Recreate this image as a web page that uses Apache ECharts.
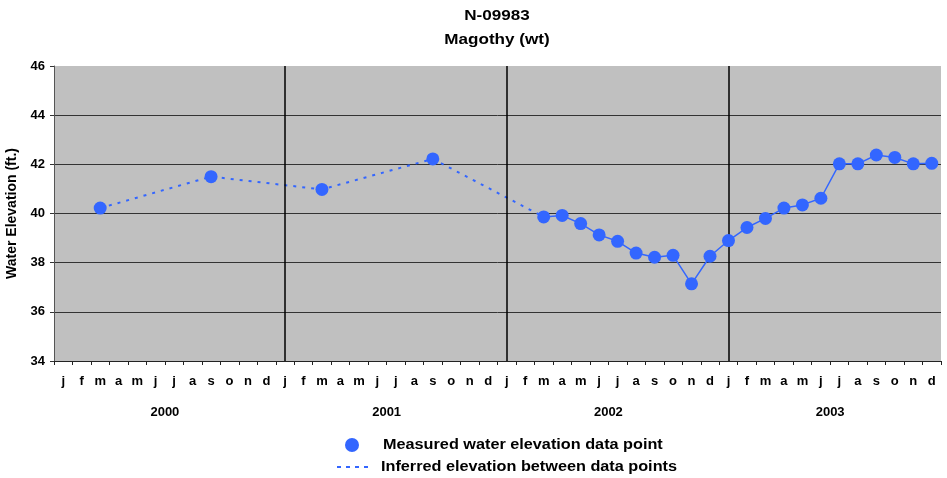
<!DOCTYPE html>
<html><head><meta charset="utf-8">
<script src="https://cdn.jsdelivr.net/npm/echarts@6/dist/echarts.min.js"></script>
<style>html,body{margin:0;padding:0;background:#fff}#c{width:947px;height:478px}</style>
</head><body><div id="c"></div>
<script>
const monthLetters = ['j','f','m','a','m','j','j','a','s','o','n','d'];
const years = ['2000','2001','2002','2003'];
// month index counted from Jan 2000 (0) and measured elevation (ft)
const measuredMonth = [2, 8, 14, 20, 26, 27, 28, 29, 30, 31, 32, 33, 34, 35, 36, 37, 38, 39, 40, 41, 42, 43, 44, 45, 46, 47];
const measuredValue = [40.22, 41.5, 40.98, 42.22, 39.86, 39.92, 39.59, 39.13, 38.87, 38.39, 38.22, 38.3, 37.14, 38.26, 38.9, 39.43, 39.8, 40.22, 40.35, 40.62, 42.02, 42.02, 42.38, 42.28, 42.02, 42.04];
const yTicks = {min: 34, max: 46, step: 2};
const titleLines = ['N-09983', 'Magothy (wt)'];
const legendTexts = ['Measured water elevation data point', 'Inferred elevation between data points'];

const FONT = "'Liberation Sans', Arial, Helvetica, sans-serif";
const BLUE = '#3366ff';
const nMonths = monthLetters.length * years.length;
const monthCats = [];
years.forEach(() => monthLetters.forEach(m => monthCats.push(m)));
const pts = measuredMonth.map((m, i) => [m + 0.5, measuredValue[i]]);
const dotted = [], solid = [];
for (let i = 1; i < pts.length; i++) {
  const target = (measuredMonth[i] - measuredMonth[i - 1] > 1) ? dotted : solid;
  if (!target.length || target[target.length - 1] !== pts[i - 1]) target.push(pts[i - 1]);
  target.push(pts[i]);
}
const yearLines = years.slice(1).map((y, k) => ({xAxis: (k + 1) * 12 + 0.5}));

const chart = echarts.init(document.getElementById('c'), null, {renderer: 'canvas'});
const txt = (t, x, y, size, sx) => ({type: 'text', x: x, y: y, scaleX: sx, style: {text: t, fontFamily: FONT, fontSize: size, fontWeight: 'bold', fill: '#000', verticalAlign: 'middle', align: 'left'}});
const ttl = (t, y) => ({type: 'text', x: 497, y: y, scaleX: 1.14, style: {text: t, fontFamily: FONT, fontSize: 15, fontWeight: 'bold', fill: '#000', verticalAlign: 'middle', align: 'center'}});
chart.setOption({
  animation: false,
  backgroundColor: '#fff',
  grid: {left: 54, right: 6, top: 66, bottom: 117, show: true, backgroundColor: '#c0c0c0', borderWidth: 0, outerBoundsMode: 'none', containLabel: false},
  xAxis: [
    {type: 'value', min: 0, max: nMonths, show: false, splitLine: {show: false}},
    {type: 'category', data: monthCats, boundaryGap: true, position: 'bottom',
      axisLine: {show: true, lineStyle: {color: '#222', width: 1}},
      axisTick: {show: true, interval: 0, length: 4, lineStyle: {color: '#222'}},
      axisLabel: {interval: 0, margin: 14, fontFamily: FONT, fontSize: 13, fontWeight: 'bold', color: '#000'},
      splitLine: {show: false}},
    {type: 'category', data: years, boundaryGap: true, position: 'bottom', offset: 45,
      axisLine: {show: false}, axisTick: {show: false},
      axisLabel: {interval: 0, margin: 0, fontFamily: FONT, fontSize: 13, fontWeight: 'bold', color: '#000'},
      splitLine: {show: false}}
  ],
  yAxis: {
    type: 'value', min: yTicks.min, max: yTicks.max, interval: yTicks.step,
    name: 'Water Elevation (ft.)', nameLocation: 'middle', nameGap: 35, nameRotate: 90,
    nameTextStyle: {fontFamily: FONT, fontSize: 14, fontWeight: 'bold', color: '#000'},
    axisLine: {show: true, lineStyle: {color: '#555', width: 1}},
    axisTick: {show: true, length: 4, lineStyle: {color: '#333'}},
    axisLabel: {margin: 9, fontFamily: FONT, fontSize: 13, fontWeight: 'bold', color: '#000'},
    splitLine: {show: true, showMaxLine: false, lineStyle: {color: '#333', width: 1}}
  },
  series: [
    {type: 'line', xAxisIndex: 0, data: dotted, showSymbol: false, symbol: 'none',
      lineStyle: {color: BLUE, width: 2, type: [3, 6]}, z: 3,
      markLine: {silent: true, symbol: 'none', label: {show: false},
        lineStyle: {color: '#000', width: 1.5, type: 'solid'}, data: yearLines}},
    {type: 'line', xAxisIndex: 0, data: solid, showSymbol: false, symbol: 'none',
      lineStyle: {color: BLUE, width: 1.5}, z: 3},
    {type: 'scatter', xAxisIndex: 0, data: pts, symbol: 'circle', symbolSize: 13,
      itemStyle: {color: BLUE, opacity: 1}, z: 5}
  ],
  graphic: [
    ttl(titleLines[0], 16),
    ttl(titleLines[1], 40),
    {type: 'circle', shape: {cx: 352, cy: 445, r: 7}, style: {fill: BLUE}},
    txt(legendTexts[0], 383, 445, 14, 1.16),
    {type: 'line', shape: {x1: 337, y1: 467, x2: 371, y2: 467}, style: {stroke: BLUE, lineWidth: 2, lineDash: [4, 5]}},
    txt(legendTexts[1], 381, 467, 14, 1.16)
  ]
});
</script></body></html>
